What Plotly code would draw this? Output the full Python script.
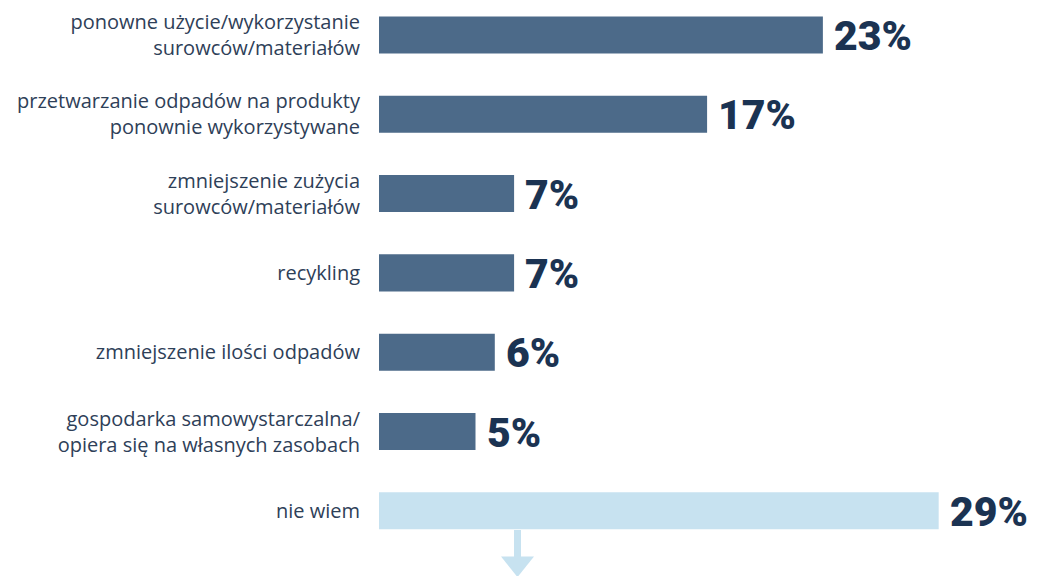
import plotly.graph_objects as go

categories = [
    "ponowne użycie/wykorzystanie<br>surowców/materiałów",
    "przetwarzanie odpadów na produkty<br>ponownie wykorzystywane",
    "zmniejszenie zużycia<br>surowców/materiałów",
    "recykling",
    "zmniejszenie ilości odpadów",
    "gospodarka samowystarczalna/<br>opiera się na własnych zasobach",
    "nie wiem",
]
values = [23, 17, 7, 7, 6, 5, 29]
value_labels = ["23%", "17%", "7%", "7%", "6%", "5%", "29%"]

DARK = "#4c6a89"
LIGHT = "#c7e2f0"
colors = [DARK] * 6 + [LIGHT]

fig = go.Figure(
    go.Bar(
        x=values,
        y=categories,
        orientation="h",
        marker=dict(color=colors, line=dict(width=0)),
        hoverinfo="skip",
    )
)

for c, v, t in zip(categories, values, value_labels):
    fig.add_annotation(
        x=v, y=c, text=t, showarrow=False, xanchor="left", yanchor="middle",
        xshift=9, yshift=-1,
        font=dict(family="Roboto", size=41, color="#1b3352", weight=900),
    )

# down arrow below the last bar
fig.add_shape(type="rect", xref="paper", yref="paper",
              x0=0.2042, x1=0.2148, y0=0.033, y1=0.0799,
              fillcolor=LIGHT, line=dict(width=0), layer="below")
fig.add_shape(type="path", xref="paper", yref="paper",
              path="M 0.1846,0.034 L 0.2345,0.034 L 0.2095,-0.002 Z",
              fillcolor=LIGHT, line=dict(width=0))

fig.update_layout(
    width=1040, height=576,
    margin=dict(l=379, r=0, t=0, b=0),
    paper_bgcolor="white", plot_bgcolor="white",
    bargap=0.533,
    showlegend=False,
    xaxis=dict(range=[0, 34.25], visible=False, fixedrange=True),
    yaxis=dict(
        type="category",
        range=[6.822, -0.441],
        showgrid=False, zeroline=False, showline=False,
        ticks="", ticklabelstandoff=18,
        tickfont=dict(family="Open Sans", size=20, color="#2e4058"),
    ),
)

fig.write_html("out.html")
